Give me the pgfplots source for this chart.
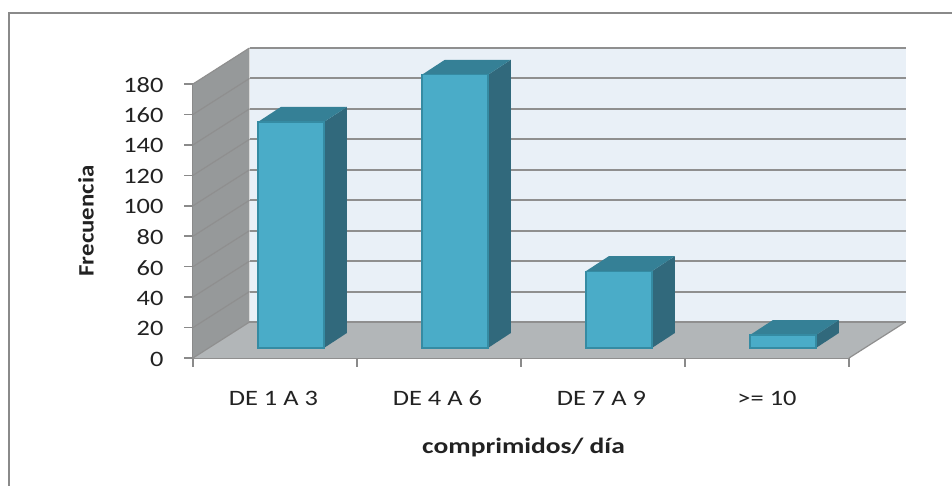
\documentclass[border=0pt]{standalone}
\usepackage{pgfplots}
\pgfplotsset{compat=1.18}
\usepackage{fontspec}
\setmainfont{Carlito}
\definecolor{front}{HTML}{4AACC8}
\definecolor{frontb}{HTML}{358BA3}
\definecolor{side}{HTML}{31697C}
\definecolor{topc}{HTML}{358096}
\definecolor{wallb}{HTML}{E9F0F7}
\definecolor{walll}{HTML}{96999A}
\definecolor{floorc}{HTML}{B2B6B8}
\definecolor{gridc}{HTML}{8F8F8F}
\definecolor{axisc}{HTML}{8A8A8A}
\definecolor{txt}{HTML}{222222}
% one 3D bar: left edge of front face (in category units), value
\newcommand{\threedbar}[2]{%
  \pgfmathsetmacro{\xa}{#1}%
  \pgfmathsetmacro{\xb}{#1+0.4024}%
  \pgfmathsetmacro{\xc}{#1+0.4024+0.14}%
  \pgfmathsetmacro{\xd}{#1+0.14}%
  \pgfmathsetmacro{\yb}{6.57}%
  \pgfmathsetmacro{\yt}{6.57+#2}%
  \pgfmathsetmacro{\ybb}{6.57+9.86}%
  \pgfmathsetmacro{\ytb}{6.57+#2+9.86}%
  \addplot[draw=none,fill=side] coordinates {(\xb,\yb) (\xc,\ybb) (\xc,\ytb) (\xb,\yt)} --cycle;
  \addplot[draw=none,fill=topc] coordinates {(\xa,\yt) (\xb,\yt) (\xc,\ytb) (\xd,\ytb)} --cycle;
  \addplot[draw=frontb,line width=1.2pt,fill=front] coordinates {(\xa,\yb) (\xb,\yb) (\xb,\yt) (\xa,\yt)} --cycle;
}
\begin{document}
\begin{tikzpicture}[x=1pt,y=1pt]
\path[use as bounding box] (0,0) rectangle (952,485);
\draw[axisc,line width=2pt] (8.5,-2) -- (8.5,472) -- (954,472);
% back wall
\begin{axis}[
  at={(249.5pt,163pt)},anchor=south west,
  x=164pt,y=1.5222pt,
  xmin=0,xmax=4,ymin=0,ymax=180,
  axis background/.style={fill=wallb},
  axis line style={draw=none},
  xtick=\empty,ytick={0,20,...,180},yticklabels={},
  major tick length=0pt,
  ymajorgrids,grid style={gridc,line width=2pt},
]
\addplot[draw=none] coordinates {(0,0) (4,180)};
\end{axis}
\begin{axis}[
  at={(193pt,127pt)},anchor=south west,
  x=164pt,y=1.5222pt,
  xmin=0,xmax=4,ymin=0,ymax=180,
  clip=false,
  axis x line*=bottom,axis y line*=left,
  axis line style={axisc,line width=1.6pt,-},
  tick style={axisc,line width=1.6pt},
  tick align=outside,
  major tick length=8.5pt,
  xtick={0,1,2,3,4},
  xticklabels={},
  extra x ticks={0.49,1.49,2.49,3.5},
  extra x tick labels={DE 1 A 3,DE 4 A 6,DE 7 A 9,{>= 10}},
  extra x tick style={tick style={draw=none}},
  ytick={0,20,...,180},
  /pgf/number format/assume math mode=true,
  tick label style={font=\fontsize{22}{24}\selectfont,text=txt,xscale=1.2},
  x tick label style={anchor=center,text height=10pt,text depth=0pt,yshift=-34pt},
  y tick label style={xshift=-14pt,yshift=-1pt},
  xlabel={\textbf{comprimidos/ día}},
  xlabel style={font=\fontsize{22}{24}\selectfont,text=txt,xscale=1.25,at={(axis cs:2,0)},anchor=center,yshift=-90pt,xshift=2pt},
  ylabel={\textbf{Frecuencia}},
  ylabel style={font=\fontsize{22}{24}\selectfont,text=txt,xscale=1.13,at={(axis cs:0,90)},anchor=center,xshift=0pt,yshift=107pt},
]
% left wall
\addplot[draw=none,fill=walll] coordinates {(0,0) (0.3445,23.65) (0.3445,203.65) (0,180)} --cycle;
% floor
\addplot[draw=none,fill=floorc] coordinates {(0,0) (4,0) (4.3445,23.65) (0.3445,23.65)} --cycle;
% left-wall grid lines
\pgfplotsinvokeforeach{0,20,...,180}{
  \draw[gridc,line width=1.2pt] (axis cs:0,#1) -- (axis cs:0.3445,#1+23.65);
}
\draw[gridc,line width=1.2pt] (axis cs:4,0) -- (axis cs:4.3445,23.65);
\draw[gridc,line width=2pt] (axis cs:0.3445,23.65) -- (axis cs:4.3445,23.65);
\threedbar{0.396}{148.5}
\threedbar{1.396}{179.5}
\threedbar{2.396}{50.5}
\threedbar{3.396}{8.5}
\end{axis}
\end{tikzpicture}
\end{document}
